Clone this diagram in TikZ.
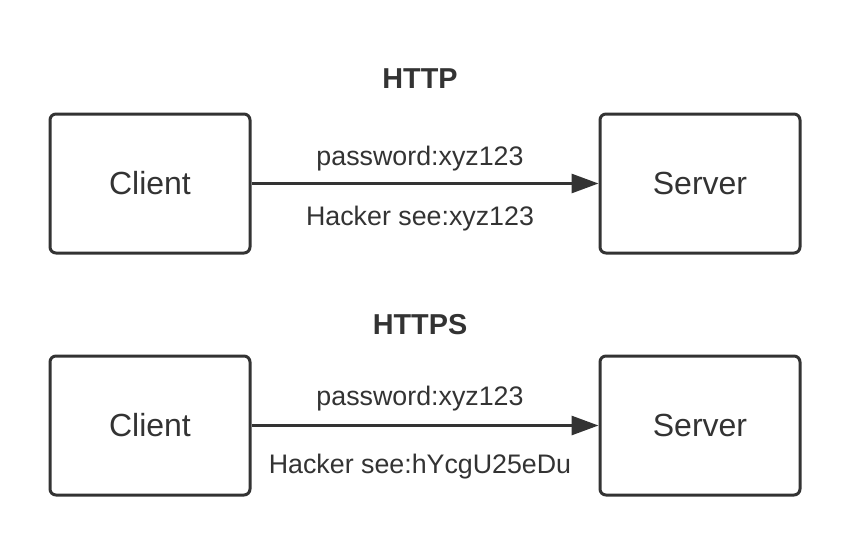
\documentclass[tikz,border=0pt]{standalone}
\usepackage{fontspec}
\setmainfont{Liberation Sans}
\usetikzlibrary{arrows.meta}
\definecolor{ink}{HTML}{333333}
\tikzset{
  box/.style={draw=ink, line width=3pt, rounded corners=6pt, minimum width=200pt, minimum height=139pt, inner sep=0pt, text=ink, font=\fontsize{32}{38}\selectfont},
  flow/.style={draw=ink, line width=3pt, -{Triangle[length=27pt,width=19pt]}},
  lbl/.style={text=ink, inner sep=0pt, font=\fontsize{26.8}{32}\selectfont},
  ttl/.style={text=ink, inner sep=0pt, font=\bfseries\fontsize{28.8}{34}\selectfont}
}
\begin{document}
\begin{tikzpicture}[x=1pt,y=-1pt]
\useasboundingbox (0,0) rectangle (850,546);
\node[ttl] (t1) at (420,79) {HTTP};
\node[box] (c1) at (150,183.5) {Client};
\node[box] (s1) at (700,183.5) {Server};
\draw[flow] (c1) -- (s1);
\node[lbl] (p1) at (420,159) {password:xyz123};
\node[lbl] (h1) at (420,219) {Hacker see:xyz123};
\node[ttl] (t2) at (420,325) {HTTPS};
\node[box] (c2) at (150,425.5) {Client};
\node[box] (s2) at (700,425.5) {Server};
\draw[flow] (c2) -- (s2);
\node[lbl] (p2) at (420,399) {password:xyz123};
\node[lbl] (h2) at (420,467) {Hacker see:hYcgU25eDu};
\end{tikzpicture}
\end{document}
